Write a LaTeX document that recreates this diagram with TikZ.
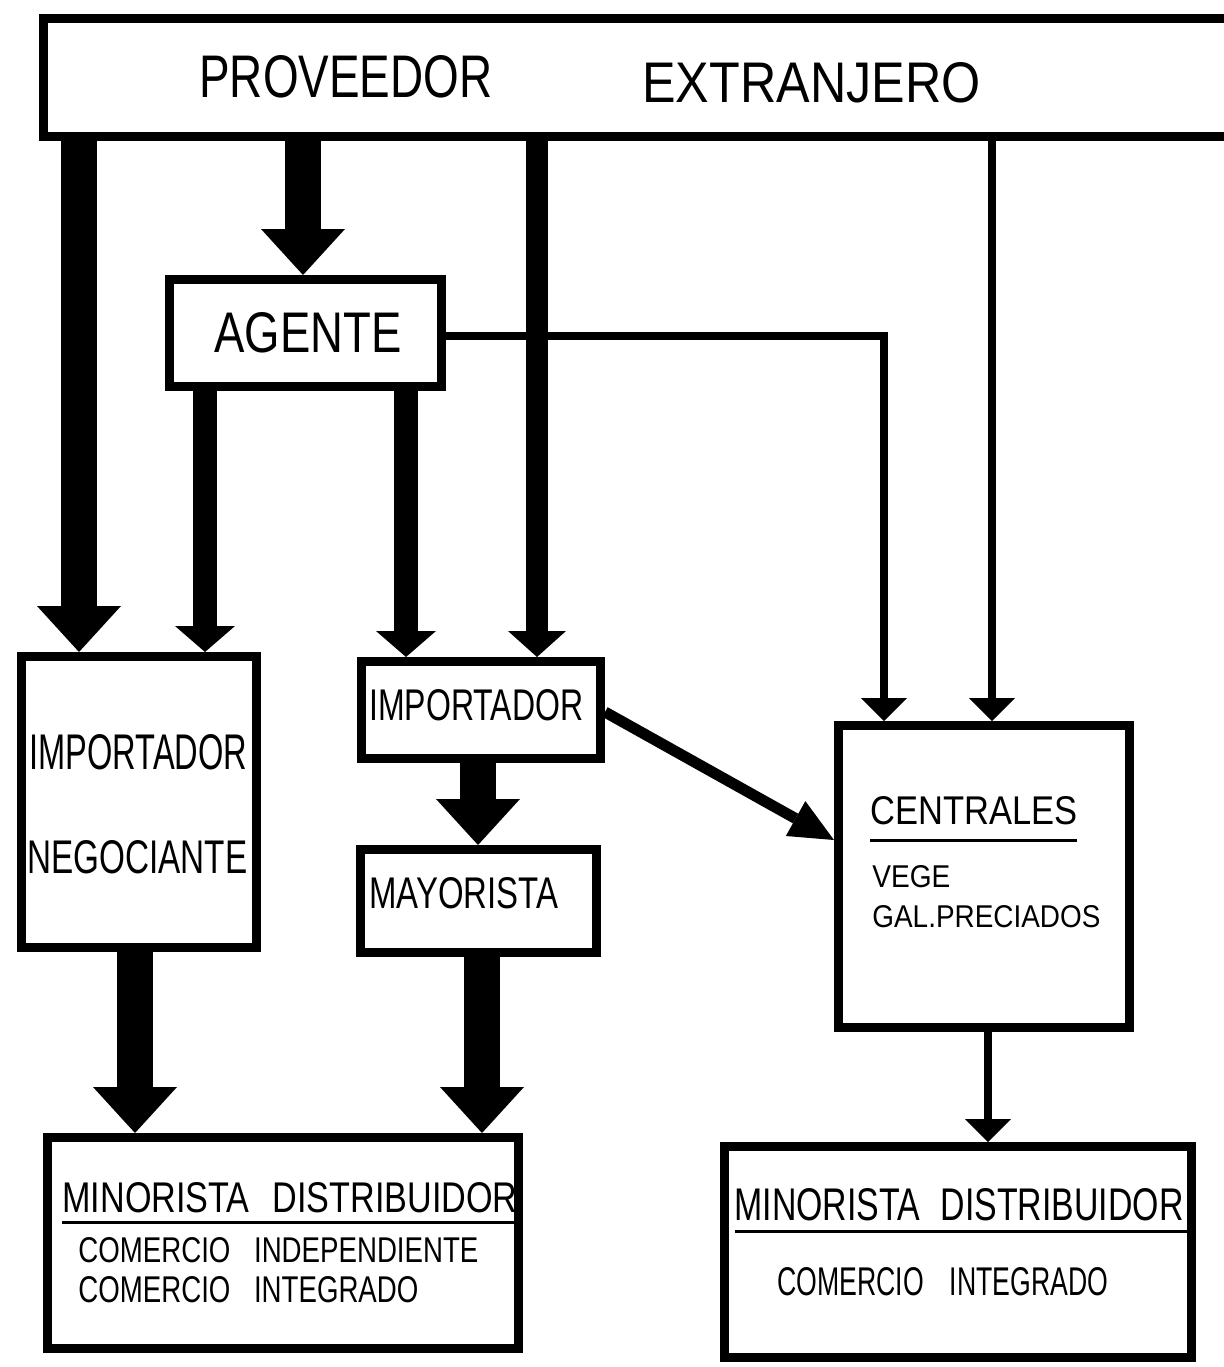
\documentclass[tikz,border=0pt]{standalone}
\usepackage{fontspec}
\setmainfont{Liberation Sans}[FakeStretch=0.82]
\usetikzlibrary{arrows.meta,fit}

% one drawing unit = one pixel of the 1224 x 1367 sheet
\newlength\px \setlength\px{0.5pt}
\newcommand\fitword[3]{\resizebox{#1\px}{#2\px}{#3}}

\tikzset{
  box/.style={draw, rectangle, line width=4.5pt, inner sep=0pt},
  word/.style={inner sep=0pt, anchor=base west},
  bigflow/.style={line width=18pt, -{Triangle[width=42pt,length=23pt,line width=0pt]}},
  agflow/.style={line width=12pt, -{Triangle[width=30pt,length=13pt,line width=0pt]}},
  midflow/.style={line width=11pt, -{Triangle[width=29pt,length=13pt,line width=0pt]}},
  thinflow/.style={line width=4pt, -{Triangle[width=23pt,length=11.5pt,line width=0pt]}},
  diagflow/.style={line width=5.5pt, -{Triangle[width=20pt,length=22pt,line width=0pt]}},
  rule/.style={line width=1.5pt},
}

\begin{document}
\begin{tikzpicture}[x=0.5pt, y=-0.5pt]
\clip (0,0) rectangle (1224,1367);
\fill[white] (0,0) rectangle (1224,1367);

% boxes
\node[box, fit={(43.5,18.5) (1240,136.5)}] (prov) {};
\node[box, fit={(169.5,279.5) (441.5,386.5)}] (agente) {};
\node[box, fit={(21.5,656.5) (256.5,947.5)}] (imp1) {};
\node[box, fit={(361.5,661.5) (600.5,758.5)}] (imp2) {};
\node[box, fit={(360.5,849.5) (596.5,952.5)}] (mayor) {};
\node[box, fit={(838.5,725.5) (1129.5,1027.5)}] (cent) {};
\node[box, fit={(47.5,1137.5) (518.5,1348.5)}] (min1) {};
\node[box, fit={(724.5,1146.5) (1191.5,1357.5)}] (min2) {};

% labels
\node[word] (tprov) at (199,97) {\fitword{293}{42}{PROVEEDOR}};
\node[word] (text) at (642,102) {\fitword{338}{40}{EXTRANJERO}};
\node[word] (tagente) at (214,352) {\fitword{187}{40}{AGENTE}};
\node[word] (timp1) at (29,769) {\fitword{218}{35}{IMPORTADOR}};
\node[word] (tneg) at (27,873) {\fitword{220}{33}{NEGOCIANTE}};
\node[word] (timp2) at (369,720) {\fitword{214}{31}{IMPORTADOR}};
\node[word] (tmayor) at (369,908) {\fitword{189}{31}{MAYORISTA}};
\node[word] (tcent) at (870,824) {\fitword{207}{28}{CENTRALES}};
\node[word] (tvege) at (872,887) {\fitword{78}{22}{VEGE}};
\node[word] (tgal) at (872,927) {\fitword{228}{22}{GAL.PRECIADOS}};
\node[word] (tmin1) at (62,1212) {\fitword{455}{30}{MINORISTA\hspace{0.55em}DISTRIBUIDOR}};
\node[word] (tind) at (78,1262) {\fitword{400}{25}{COMERCIO\hspace{0.7em}INDEPENDIENTE}};
\node[word] (tint1) at (78,1302) {\fitword{340}{26}{COMERCIO\hspace{0.7em}INTEGRADO}};
\node[word] (tmin2) at (734,1220) {\fitword{449}{32}{MINORISTA\hspace{0.5em}DISTRIBUIDOR}};
\node[word] (tint2) at (777,1295) {\fitword{331}{28}{COMERCIO\hspace{0.8em}INTEGRADO}};

% rules under the headings
\draw[rule] (870,840) -- (1077,840);
\draw[rule] (62,1222) -- (min1.east |- 0,1222);
\draw[rule] (735,1231) -- (min2.east |- 0,1231);

% flows
\draw[bigflow] (79,0 |- prov.south) -- (79,0 |- imp1.north);
\draw[bigflow] (303,0 |- prov.south) -- (303,0 |- agente.north);
\draw[midflow] (537,0 |- prov.south) -- (537,0 |- imp2.north);
\draw[thinflow] (992,0 |- prov.south) -- (992,0 |- cent.north);

\draw[agflow] (205,0 |- agente.south) -- (205,0 |- imp1.north);
\draw[agflow] (406,0 |- agente.south) -- (406,0 |- imp2.north);
\draw[thinflow] (agente.east |- 0,336) -| (884,0 |- cent.north);

\draw[bigflow] (478,0 |- imp2.south) -- (478,0 |- mayor.north);
\draw[diagflow] (imp2.east |- 0,712) -- (cent.west |- 0,840);

\draw[bigflow] (135,0 |- imp1.south) -- (135,0 |- min1.north);
\draw[bigflow] (482,0 |- mayor.south) -- (482,0 |- min1.north);
\draw[thinflow] (988,0 |- cent.south) -- (988,0 |- min2.north);
\end{tikzpicture}
\end{document}
